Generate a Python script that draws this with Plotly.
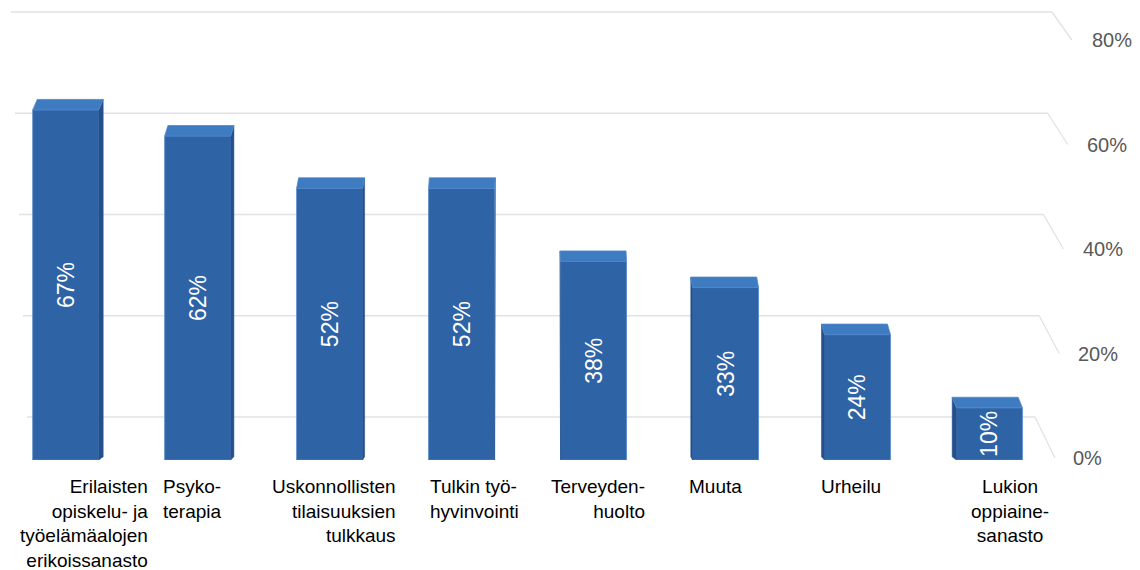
import plotly.graph_objects as go

# ---- data ----
categories = [
    "Erilaisten<br>opiskelu- ja<br>työelämäalojen<br>erikoissanasto",
    "Psyko-<br>terapia",
    "Uskonnollisten<br>tilaisuuksien<br>tulkkaus",
    "Tulkin työ-<br>hyvinvointi",
    "Terveyden-<br>huolto",
    "Muuta",
    "Urheilu",
    "Lukion<br>oppiaine-<br>sanasto",
]
values = [67, 62, 52, 52, 38, 33, 24, 10]
tick_values = [0, 20, 40, 60, 80]
tick_labels = ["0%", "20%", "40%", "60%", "80%"]

# ---- styling / layout constants ----
W, H = 1140, 570
FRONT = "#2e63a6"
TOP = "#3f7bc1"
SIDE = "#234f8d"
EDGE = "#4f86c9"
GRID = "#e2e2e2"
FONT = "Liberation Sans, Arial, sans-serif"

def px(x):
    return x / W

def py(y):
    return 1 - y / H

BAR_W = 0.5
PX_PER_UNIT_X = 131.96
PX_PER_PCT = 5.225
BOTTOM_PX = 460
TOP_PX = 10
DEPTH = 10.5 / PX_PER_PCT        # top-face depth in % units
VP = 3.6                          # horizontal vanishing position (category units)
K = 0.0095                        # perspective skew per category

x_idx = list(range(len(values)))
x0 = -65.7 / PX_PER_UNIT_X
x1 = x0 + 1060 / PX_PER_UNIT_X

fig = go.Figure()

# side and top faces (pseudo-3D), computed from the data values
for i, v in zip(x_idx, values):
    dx = (VP - i) * K
    xl, xr = i - BAR_W / 2, i + BAR_W / 2
    edge = xr if dx > 0 else xl
    fig.add_trace(go.Scatter(
        x=[edge, edge, edge + dx, edge + dx, edge],
        y=[0, v, v + DEPTH, DEPTH * 0.3, 0],
        fill="toself", fillcolor=SIDE, mode="lines",
        line=dict(color=SIDE, width=0.5), hoverinfo="skip", showlegend=False,
    ))
    fig.add_trace(go.Scatter(
        x=[xl, xr, xr + dx, xl + dx, xl],
        y=[v, v, v + DEPTH, v + DEPTH, v],
        fill="toself", fillcolor=TOP, mode="lines",
        line=dict(color=EDGE, width=0.8), hoverinfo="skip", showlegend=False,
    ))

# front faces
fig.add_trace(go.Bar(
    x=x_idx, y=values, width=BAR_W,
    marker=dict(color=FRONT, line=dict(color=EDGE, width=0.8)),
    text=[f"{v}%" for v in values],
    textposition="inside", insidetextanchor="middle", textangle=-90,
    textfont=dict(color="white", size=23, family=FONT),
    hoverinfo="skip", showlegend=False,
))

# back-wall gridlines with perspective connectors to the value labels
shapes = []
annotations = []
for t, lab in zip(tick_values, tick_labels):
    yb = 417 - 5.0625 * t
    xl_g = 27 - 0.2 * t
    xr_g = 1035 + 0.2125 * t
    yf = 458 - PX_PER_PCT * t
    xf = 1055 + 0.21 * t
    shapes.append(dict(type="line", xref="paper", yref="paper", layer="below",
                       x0=px(xl_g), x1=px(xr_g), y0=py(yb), y1=py(yb),
                       line=dict(color=GRID, width=1.3)))
    shapes.append(dict(type="line", xref="paper", yref="paper", layer="below",
                       x0=px(xr_g), x1=px(xf), y0=py(yb), y1=py(yf),
                       line=dict(color=GRID, width=1.3)))
    annotations.append(dict(xref="paper", yref="paper", x=px(1073 + 0.24 * t), y=py(yf),
                            xanchor="left", yanchor="middle", text=lab, showarrow=False,
                            borderpad=0, borderwidth=0,
                            font=dict(color="#595959", size=20, family=FONT)))

# category labels
label_pos = [("right", 148), ("left", 163), ("right", 396), ("left", 430),
             ("right", 645), ("left", 689), ("left", 821), ("center", 1010)]
for cat, (al, xp) in zip(categories, label_pos):
    annotations.append(dict(xref="paper", yref="paper", x=px(xp), y=py(476),
                            xanchor=al, yanchor="top", align=al, text=cat,
                            showarrow=False, borderpad=0, borderwidth=0,
                            font=dict(color="#000000", size=19, family=FONT)))

fig.update_layout(
    width=W, height=H,
    margin=dict(l=0, r=0, t=0, b=0),
    paper_bgcolor="white", plot_bgcolor="white",
    showlegend=False,
    uniformtext=dict(minsize=23, mode="show"),
    xaxis=dict(domain=[0, 1060 / W], range=[x0, x1], showgrid=False,
               zeroline=False, showticklabels=False, ticks="", showline=False),
    yaxis=dict(domain=[py(BOTTOM_PX), py(TOP_PX)],
               range=[0, (BOTTOM_PX - TOP_PX) / PX_PER_PCT],
               showgrid=False, zeroline=False, showticklabels=False, ticks="",
               showline=False),
    shapes=shapes,
    annotations=annotations,
    font=dict(family=FONT),
)

fig.write_html("out.html")
